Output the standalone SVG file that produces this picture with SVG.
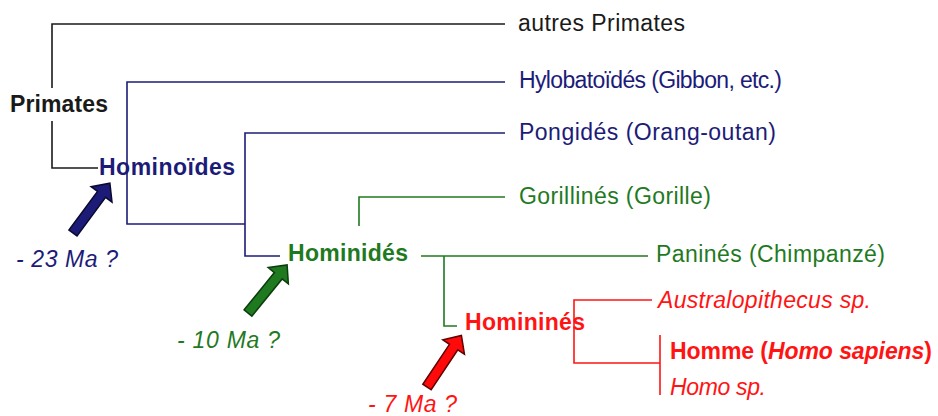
<svg xmlns="http://www.w3.org/2000/svg" xmlns:xlink="http://www.w3.org/1999/xlink" width="938" height="416" viewBox="0 0 938 416">
<style>
text{font-family:"Liberation Sans",Arial,sans-serif;font-size:23px}
.b{font-weight:bold}
.i{font-style:italic}
.k{fill:#1a1a1a}.n{fill:#1c1c78}.g{fill:#1f7a1f}.r{fill:#ff1414}
.lk,.ln,.lg,.lr{fill:none;stroke-width:1.6}
.lk{stroke:#1a1a1a}.ln{stroke:#1c1c78}.lg{stroke:#1f7a1f}.lr{stroke:#ff1414}
.an{fill:#1c1c78;stroke:#0a0a30;stroke-width:1.5}
.ag{fill:#1f7a1f;stroke:#0d3d0d;stroke-width:1.5}
.ar{fill:#ff0a0a;stroke:#600000;stroke-width:1.5}
</style>
<defs>
<path id="arr" d="M0,-5 L48,-5 L48,-13 L62,0 L48,13 L48,5 L0,5 Z"/>
</defs>
<rect width="938" height="416" fill="#fff"/>
<g id="connectors">
<path class="lk" d="M505,24 H52 V88 M52,121 V168 H98"/>
<path class="ln" d="M505,82 H127 V224 H245 M505,133 H245 V256 H280"/>
<path class="lg" d="M505,197 H359 V226 M648,256 H421 M444,256 V326 H457"/>
<path class="lr" d="M652,300 H574 V363 H660 M660,335 V395"/>
</g>
<g id="arrows">
<use xlink:href="#arr" class="an" transform="translate(73,233) rotate(-53.5)"/>
<use xlink:href="#arr" class="ag" transform="translate(248,313) rotate(-50.9)"/>
<use xlink:href="#arr" class="ar" transform="translate(427,387) rotate(-56.3)"/>
</g>
<g id="autres"><text class="k" x="518" y="31" textLength="167" lengthAdjust="spacing">autres Primates</text></g>
<g id="primates"><text class="k b" x="10" y="112" textLength="98" lengthAdjust="spacing">Primates</text></g>
<g id="hylobatoides"><text class="n" x="519" y="88" textLength="263" lengthAdjust="spacing">Hylobatoïdés (Gibbon, etc.)</text></g>
<g id="hominoides"><text class="n b" x="99" y="175" textLength="136" lengthAdjust="spacing">Hominoïdes</text></g>
<g id="pongides"><text class="n" x="519" y="140" textLength="257" lengthAdjust="spacing">Pongidés (Orang-outan)</text></g>
<g id="gorillines"><text class="g" x="519" y="204" textLength="192" lengthAdjust="spacing">Gorillinés (Gorille)</text></g>
<g id="hominides"><text class="g b" x="288" y="261" textLength="120" lengthAdjust="spacing">Hominidés</text></g>
<g id="panines"><text class="g" x="656" y="262" textLength="229" lengthAdjust="spacing">Paninés (Chimpanzé)</text></g>
<g id="hominines"><text class="r b" x="465" y="330" textLength="120" lengthAdjust="spacing">Homininés</text></g>
<g id="australopithecus"><text class="r i" x="658" y="308" textLength="213" lengthAdjust="spacing">Australopithecus sp.</text></g>
<g id="homme"><text class="r b" x="670" y="359" textLength="262" lengthAdjust="spacing">Homme (<tspan class="i">Homo sapiens</tspan>)</text></g>
<g id="homo"><text class="r i" x="670" y="395" textLength="96" lengthAdjust="spacing">Homo sp.</text></g>
<g id="dates">
<text class="n i" x="16" y="267" textLength="102" lengthAdjust="spacing">- 23 Ma ?</text>
<text class="g i" x="177" y="348" textLength="103" lengthAdjust="spacing">- 10 Ma ?</text>
<text class="r i" x="368" y="412" textLength="89" lengthAdjust="spacing">- 7 Ma ?</text>
</g>
</svg>
